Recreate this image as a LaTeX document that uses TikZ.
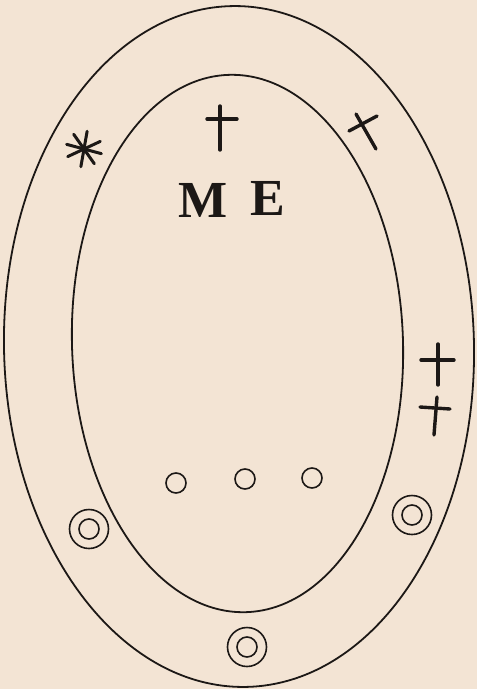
\documentclass[tikz,border=0pt]{standalone}
\usepackage{fontspec}
\setmainfont{Liberation Serif}
\usetikzlibrary{positioning}
\definecolor{parchment}{RGB}{243,228,212}
\definecolor{inkblack}{RGB}{28,24,22}
\tikzset{
  rim/.style={draw=inkblack, line width=1.8pt},
  glyph/.style={draw=inkblack, line width=3.4pt, line cap=round},
  pore/.style={circle, draw=inkblack, line width=1.6pt, minimum size=20pt, inner sep=0pt},
  ring/.style={circle, draw=inkblack, line width=1.6pt, minimum size=39pt, inner sep=0pt},
  letter/.style={text=inkblack, inner sep=0pt,
    font=\fontsize{52}{52}\selectfont\bfseries}
}

\begin{document}
\begin{tikzpicture}[x=1pt, y=-1pt]
\fill[parchment] (0,0) rectangle (477,689);
\useasboundingbox (0,0) rectangle (477,689);

% the two shells
\draw[rim, rotate around={1.3:(239,346.5)}] (239,346.5)
  ellipse [x radius=235, y radius=340.5];
\draw[rim, rotate around={1.9:(237.5,343.5)}] (237.5,343.5)
  ellipse [x radius=165.5, y radius=268.8];

% letters
\node[letter] (letterM) at (203,200) {M};
\node[letter] (letterE) at (268,198) {E};

% asterisk
\foreach \a in {-25,-80,-125,-165}
  \draw[glyph, line width=3pt] (84,149) ++(\a:18) -- ++(\a+180:36);

% crosses
\draw[glyph] (220,106) -- (220,150);
\draw[glyph] (207,119) -- (237,119);
\draw[glyph] (356,114) -- (376,149);
\draw[glyph] (349,131) -- (377,116);
\draw[glyph] (438,344) -- (438,385);
\draw[glyph] (421,360) -- (454,360);
\draw[glyph] (437,397) -- (434,435);
\draw[glyph] (420,407) -- (450,409);

% small holes
\node[pore] (pore1) at (176,483) {};
\node[pore] (pore2) at (245,479) {};
\node[pore] (pore3) at (312,478) {};

% ringed holes
\node[ring] (ringL) at (89,529) {};
\node[pore] (holeL) at (89,529) {};
\node[ring] (ringR) at (412,515) {};
\node[pore] (holeR) at (412,515) {};
\node[ring] (ringB) at (247,647) {};
\node[pore] (holeB) at (247,647) {};
\end{tikzpicture}
\end{document}
